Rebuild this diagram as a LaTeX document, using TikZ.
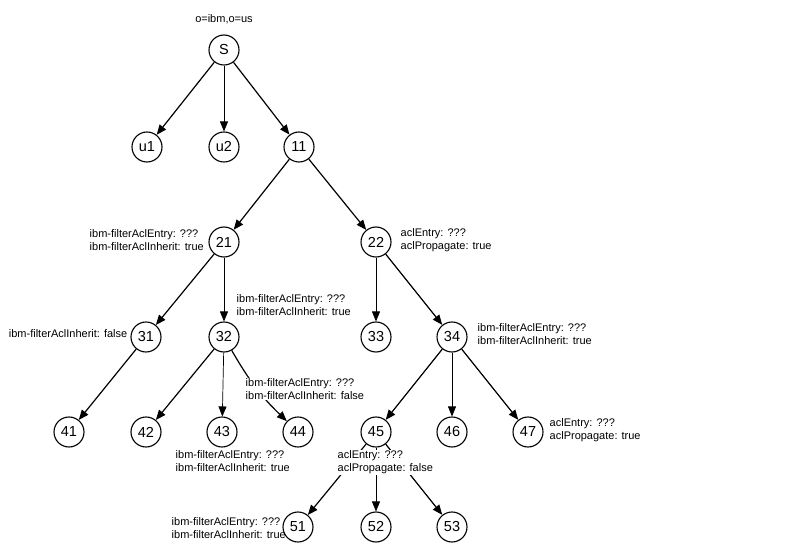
\documentclass[tikz,border=0pt]{standalone}
\usepackage{fontspec}
\setmainfont{Liberation Sans}
\usetikzlibrary{arrows.meta}
\begin{document}
\begin{tikzpicture}[x=1pt,y=-1pt,
  tn/.style={circle,draw,line width=1.1pt,minimum size=30pt,inner sep=0pt,font=\fontsize{14.5}{14.5}\selectfont},
  lbl/.style={font=\fontsize{11}{13}\selectfont,align=left,inner sep=0.5pt},
  cover/.style={fill=white},
  dedge/.style={line width=1.2pt,-{Triangle[length=10pt,width=8pt]}},
  vedge/.style={line width=0.7pt,-{Triangle[length=10pt,width=8pt]}}]
\useasboundingbox[fill=white] (0,0) rectangle (804,548);
% nodes
\node[tn] (S) at (224,50) {S};
\node[tn] (u1) at (147,147) {u1};
\node[tn] (u2) at (224,147) {u2};
\node[tn] (n11) at (299,147) {11};
\node[tn] (n21) at (224,242) {21};
\node[tn] (n22) at (376,242) {22};
\node[tn] (n31) at (146,337) {31};
\node[tn] (n32) at (224,337) {32};
\node[tn] (n33) at (376,337) {33};
\node[tn] (n34) at (452,337) {34};
\node[tn] (n41) at (69,432) {41};
\node[tn] (n42) at (146,432) {42};
\node[tn] (n43) at (222,432) {43};
\node[tn] (n44) at (298,432) {44};
\node[tn] (n45) at (376,432) {45};
\node[tn] (n46) at (452,432) {46};
\node[tn] (n47) at (528,432) {47};
\node[tn] (n51) at (298,527) {51};
\node[tn] (n52) at (376,527) {52};
\node[tn] (n53) at (452,527) {53};
% edges
\draw[dedge] (S) -- (u1);
\draw[vedge] (S) -- (u2);
\draw[dedge] (S) -- (n11);
\draw[dedge] (n11) -- (n21);
\draw[dedge] (n11) -- (n22);
\draw[dedge] (n21) -- (n31);
\draw[vedge] (n21) -- (n32);
\draw[vedge] (n22) -- (n33);
\draw[dedge] (n22) -- (n34);
\draw[dedge] (n31) -- (n41);
\draw[dedge] (n32) -- (n42);
\draw[vedge] (n32) -- (n43);
\draw[dedge] (n32) to[bend right=8] (n44);
\draw[dedge] (n34) -- (n45);
\draw[vedge] (n34) -- (n46);
\draw[dedge] (n34) -- (n47);
\draw[dedge] (n45) -- (n51);
\draw[vedge] (n45) -- (n52);
\draw[dedge] (n45) -- (n53);
% labels
\node[lbl,anchor=center] (lS) at (224,19) {o=ibm,o=us};
\node[lbl,anchor=west] (l21) at (89,240) {ibm-filterAclEntry: ???\\ibm-filterAclInherit: true};
\node[lbl,anchor=west] (l22) at (400,240) {aclEntry: ???\\aclPropagate: true};
\node[lbl,anchor=west] (l32) at (236,305) {ibm-filterAclEntry: ???\\ibm-filterAclInherit: true};
\node[lbl,anchor=east] (l31) at (128,334) {ibm-filterAclInherit: false};
\node[lbl,anchor=west] (l34) at (477,334) {ibm-filterAclEntry: ???\\ibm-filterAclInherit: true};
\node[lbl,cover,anchor=west] (l44) at (245,389) {ibm-filterAclEntry: ???\\ibm-filterAclInherit: false};
\node[lbl,anchor=west] (l47) at (549,430) {aclEntry: ???\\aclPropagate: true};
\node[lbl,anchor=west] (l43) at (175,461) {ibm-filterAclEntry: ???\\ibm-filterAclInherit: true};
\node[lbl,cover,anchor=west] (l45) at (337,462.5) {aclEntry: ???\\aclPropagate: false};
\node[lbl,anchor=west] (l51) at (171,528) {ibm-filterAclEntry: ???\\ibm-filterAclInherit: true};
\end{tikzpicture}
\end{document}
